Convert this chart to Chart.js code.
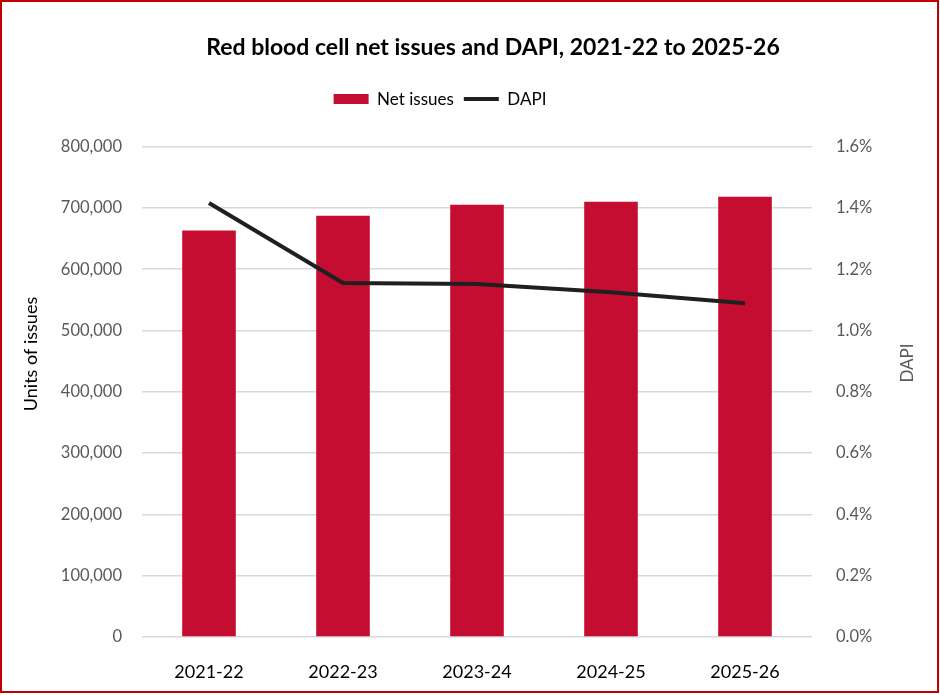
<!DOCTYPE html>
<html>
<head>
<meta charset="utf-8">
<script src="https://cdn.jsdelivr.net/npm/chart.js@4"></script>
<style>
  html, body { margin: 0; padding: 0; background: #fff; }
  #wrap { position: relative; width: 940px; height: 695px; }
  #frame {
    position: absolute; left: 0; top: 0; width: 939px; height: 693px;
    box-sizing: border-box; border: 2px solid #c00000; pointer-events: none;
  }
</style>
</head>
<body>
<div id="wrap">
  <canvas id="myChart"></canvas>
  <div id="frame"></div>
</div>
<script>
const years = ["2021-22", "2022-23", "2023-24", "2024-25", "2025-26"];
const netIssues = [663000, 687000, 705000, 710000, 718000];
const dapi = [1.416, 1.155, 1.152, 1.125, 1.089]; // percent

const leftTitle = "Units of issues";
const rightTitle = "DAPI";

const FONT = "Lato, 'Open Sans', sans-serif";
const GREY = "#595959";

// push the plot area down a bit below the legend
const legendGap = {
  id: "legendGap",
  beforeInit(chart) {
    const fit = chart.legend.fit;
    chart.legend.fit = function () {
      fit.bind(chart.legend)();
      this.height += 29;
    };
  },
  afterLayout(chart) {
    // the original's title sits a bit right of centre, the legend a bit left
    chart.titleBlock.left += 23;
    chart.titleBlock.right += 23;
    chart.legend.left -= 30;
    chart.legend.right -= 30;
  },
};

// both axis titles read bottom-to-top, like the Excel original
const axisTitles = {
  id: "axisTitles",
  afterDraw(chart) {
    const c = chart.ctx;
    const draw = (text, x, y, color, size) => {
      c.save();
      c.translate(x, y);
      c.rotate(-Math.PI / 2);
      c.textAlign = "center";
      c.textBaseline = "middle";
      c.fillStyle = color;
      c.font = size + "px " + FONT;
      c.fillText(text, 0, 0);
      c.restore();
    };
    draw(leftTitle, 31, 354, "#000", 18);
    draw(rightTitle, 908, 363, GREY, 17);
  },
};

const ctx = document.getElementById("myChart").getContext("2d");
const myChart = new Chart(ctx, {
  data: {
    labels: years,
    datasets: [
      {
        type: "line",
        label: "DAPI",
        data: dapi,
        yAxisID: "y1",
        borderColor: "#1f1f1f",
        backgroundColor: "#1f1f1f",
        borderWidth: 4,
        pointRadius: 0,
        pointStyle: "line",
        tension: 0,
        order: 0,
      },
      {
        type: "bar",
        label: "Net issues",
        data: netIssues,
        yAxisID: "y",
        backgroundColor: "#c40d30",
        pointStyle: "rect",
        barPercentage: 0.4,
        categoryPercentage: 1,
        order: 1,
      },
    ],
  },
  options: {
    responsive: true,
    maintainAspectRatio: false,
    animation: false,
    layout: { padding: 0 },
    plugins: {
      title: {
        display: true,
        text: "Red blood cell net issues and DAPI, 2021-22 to 2025-26",
        color: "#000",
        font: { family: FONT, size: 23, weight: "bold" },
        padding: { top: 34, bottom: 19 },
      },
      legend: {
        display: true,
        reverse: true,
        labels: {
          usePointStyle: true,
          pointStyleWidth: 35,
          boxHeight: 10,
          padding: 10,
          color: "#000",
          font: { family: FONT, size: 17 },
        },
      },
      tooltip: { enabled: false },
    },
    scales: {
      x: {
        grid: { display: false },
        border: { display: false },
        ticks: {
          color: "#000",
          padding: 16,
          font: { family: FONT, size: 18 },
        },
        afterFit: (s) => { s.height = 58; },
      },
      y: {
        position: "left",
        min: 0,
        max: 800000,
        grid: { color: "#d9d9d9", lineWidth: 1.5, drawTicks: false },
        border: { display: false },
        ticks: {
          stepSize: 100000,
          color: GREY,
          padding: 20,
          font: { family: FONT, size: 16.5 },
          callback: (v) => v.toLocaleString("en-US"),
        },
        afterFit: (s) => { s.width = 142; },
      },
      y1: {
        position: "right",
        min: 0,
        max: 1.6,
        grid: { display: false, drawTicks: false },
        border: { display: false },
        ticks: {
          stepSize: 0.2,
          color: GREY,
          padding: 24,
          font: { family: FONT, size: 16.5 },
          callback: (v) => v.toFixed(1) + "%",
        },
        afterFit: (s) => { s.width = 128; },
      },
    },
  },
  plugins: [legendGap, axisTitles],
});
</script>
</body>
</html>
